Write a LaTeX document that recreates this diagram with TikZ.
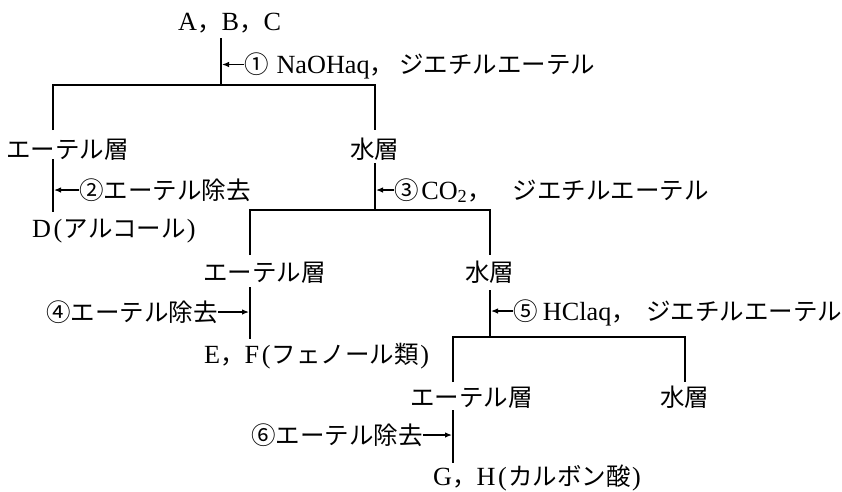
\documentclass[tikz,border=0pt]{standalone}
\usepackage{fontspec}
\setmainfont{Liberation Serif}[Scale=1.07]
\newfontfamily\jp{Noto Sans CJK JP}
\usetikzlibrary{arrows.meta}
\begin{document}
\begin{tikzpicture}[x=1pt,y=-1pt,
  txt/.style={inner sep=0pt,anchor=base west,text height=20pt,text depth=2pt,
    font=\fontsize{24.5pt}{28pt}\selectfont},
  ln/.style={line width=1.6pt},
  arr/.style={line width=1.2pt,-{Latex[length=7pt,width=5.5pt]}}]
\useasboundingbox (0,0) rectangle (842,491);

% text nodes
\node[txt] (abc) at (178,30) {A{\jp ，}B{\jp ，}C};
\node[txt] (l1) at (244,73.5) {{\jp ①}\hspace{0.3em}NaOHaq{\jp ，}\hspace{0.2em}{\jp ジエチルエーテル}};
\node[txt] (e1) at (6,158) {\jp エーテル層};
\node[txt] (w1) at (350,158) {\jp 水層};
\node[txt] (l2) at (79,199) {\jp ②エーテル除去};
\node[txt] (d) at (32,237) {D\hspace{0.1em}(\hspace{0.05em}{\jp アルコール}\hspace{0.05em})};
\node[txt] (l3) at (394,199) {{\jp ③}\hspace{0.1em}CO\textsubscript{2}{\jp ，}\hspace{0.8em}{\jp ジエチルエーテル}};
\node[txt] (e2) at (203,281) {\jp エーテル層};
\node[txt] (w2) at (465,281) {\jp 水層};
\node[txt] (l4) at (46,321) {\jp ④エーテル除去};
\node[txt] (l5) at (513,320) {{\jp ⑤}\hspace{0.2em}HClaq{\jp ，}\hspace{0.4em}{\jp ジエチルエーテル}};
\node[txt] (ef) at (204,363) {E{\jp ，}F\hspace{0.1em}(\hspace{0.05em}{\jp フェノール類}\hspace{0.05em})};
\node[txt] (e3) at (410,406) {\jp エーテル層};
\node[txt] (w3) at (660,406) {\jp 水層};
\node[txt] (l6) at (251,444) {\jp ⑥エーテル除去};
\node[txt] (gh) at (433,485) {G{\jp ，}H\hspace{0.1em}(\hspace{0.05em}{\jp カルボン酸}\hspace{0.05em})};

% tree coordinates
\coordinate (p0) at (221,38);  \coordinate (j1) at (221,85);
\coordinate (b1l) at (53,85);  \coordinate (b1r) at (375,85);
\coordinate (e1t) at (53,130); \coordinate (w1t) at (375,130);
\coordinate (e1b) at (53,159); \coordinate (d1) at (53,212);
\coordinate (w1b) at (375,163); \coordinate (j2) at (375,210);
\coordinate (b2l) at (250,210); \coordinate (b2r) at (490,210);
\coordinate (e2t) at (250,255); \coordinate (w2t) at (490,255);
\coordinate (e2b) at (250,287); \coordinate (ef1) at (250,339);
\coordinate (w2b) at (490,290); \coordinate (j3) at (490,337);
\coordinate (b3l) at (453,337); \coordinate (b3r) at (685,337);
\coordinate (e3t) at (453,382); \coordinate (w3t) at (685,382);
\coordinate (e3b) at (453,410); \coordinate (gh1) at (453,463);

% tree lines
\draw[ln] (p0) -- (j1);
\draw[ln] (e1t) -- (b1l) -- (b1r) -- (w1t);
\draw[ln] (e1b) -- (d1);
\draw[ln] (w1b) -- (j2);
\draw[ln] (e2t) -- (b2l) -- (b2r) -- (w2t);
\draw[ln] (e2b) -- (ef1);
\draw[ln] (w2b) -- (j3);
\draw[ln] (e3t) -- (b3l) -- (b3r) -- (w3t);
\draw[ln] (e3b) -- (gh1);

% reagent arrows
\draw[arr] (l1.west) -- ([xshift=1pt]l1.west -| p0);
\draw[arr] (l2.west) -- ([xshift=1pt]l2.west -| e1b);
\draw[arr] (l3.west) -- ([xshift=1pt]l3.west -| w1b);
\draw[arr] (l4.east) -- ([xshift=-1pt]l4.east -| e2b);
\draw[arr] (l5.west) -- ([xshift=1pt]l5.west -| w2b);
\draw[arr] (l6.east) -- ([xshift=-1pt]l6.east -| e3b);
\end{tikzpicture}
\end{document}
